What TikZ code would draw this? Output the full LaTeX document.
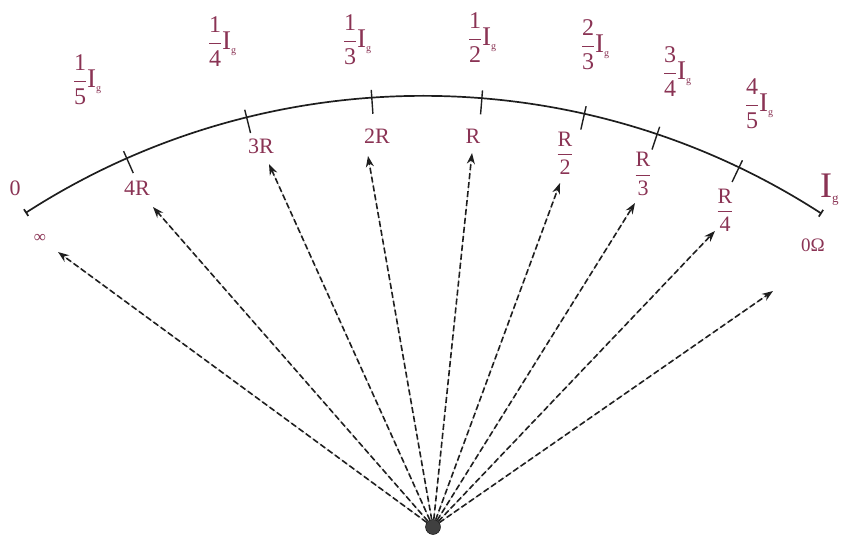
\documentclass[tikz,border=0pt]{standalone}
\usepackage{amsmath}
\usepackage{fontspec}
\setmainfont{Liberation Serif}
\usepackage{xcolor}
\usepackage{tikz}
\usetikzlibrary{arrows.meta, calc}
\definecolor{dialtext}{HTML}{8A3354}
\definecolor{dialline}{HTML}{1E1E1E}
\tikzset{
    dial/.style={line width=1.7pt, draw=dialline},
    tickmark/.style={line width=1.4pt, draw=dialline},
    ohmlbl/.style={text=dialtext, font=\fontsize{22}{24}\selectfont, inner sep=1pt},
    curlbl/.style={text=dialtext, font=\fontsize{24}{26}\selectfont, inner sep=1pt},
    ptr/.style={-{Stealth[length=11pt, width=8pt]}, dash pattern=on 6pt off 3pt,
                line width=1.6pt, draw=dialline, fill=dialline},
}
\newcommand{\dialfrac}[2]{$\dfrac{\text{#1}}{\text{#2}}$}
\newcommand{\Ig}{{\fontsize{27}{28}\selectfont I}\raisebox{-0.35ex}{\fontsize{10}{11}\selectfont g}}

\begin{document}
\begin{tikzpicture}[x=1pt, y=1pt]
  \useasboundingbox (0,0) rectangle (842,540);
  \coordinate (ctr) at (423,-290);

  % scale arc with its end bars
  \draw[dial, {Bar[width=8pt]}-{Bar[width=8pt]}] ($(ctr)+(122.8:734)$)
        arc[start angle=122.8, end angle=57.1, radius=734pt];
  \draw[tickmark] ($(ctr)+(113.8:742)$) -- ($(ctr)+(113.8:718)$);
  \draw[tickmark] ($(ctr)+(103.9:742)$) -- ($(ctr)+(103.9:718)$);
  \draw[tickmark] ($(ctr)+(94.0:742)$) -- ($(ctr)+(94.0:718)$);
  \draw[tickmark] ($(ctr)+(85.4:742)$) -- ($(ctr)+(85.4:718)$);
  \draw[tickmark] ($(ctr)+(77.3:742)$) -- ($(ctr)+(77.3:718)$);
  \draw[tickmark] ($(ctr)+(71.4:742)$) -- ($(ctr)+(71.4:718)$);
  \draw[tickmark] ($(ctr)+(64.5:742)$) -- ($(ctr)+(64.5:718)$);

  % current fractions above the arc
  \node[curlbl] (curfifth)   at (87,460)  {\dialfrac{1}{5}\Ig};
  \node[curlbl] (curquarter) at (222,498) {\dialfrac{1}{4}\Ig};
  \node[curlbl] (curthird)   at (357,500) {\dialfrac{1}{3}\Ig};
  \node[curlbl] (curhalf)    at (482,502) {\dialfrac{1}{2}\Ig};
  \node[curlbl] (curtwothird) at (595,495) {\dialfrac{2}{3}\Ig};
  \node[curlbl] (curthreeq)  at (677,468) {\dialfrac{3}{4}\Ig};
  \node[curlbl] (curfourfifth) at (759,436) {\dialfrac{4}{5}\Ig};
  \node[curlbl, font=\fontsize{36}{38}\selectfont, anchor=west] (curfull) at (819,350)
        {I\raisebox{-0.3ex}{\fontsize{13}{14}\selectfont g}};

  % resistance marks below the arc
  \node[ohmlbl] (lblzero) at (15,352) {0};
  \node[ohmlbl, font=\fontsize{17}{18}\selectfont] (lblinf) at (40,302) {∞};
  \node[ohmlbl] (lblfourR)  at (137,352) {4R};
  \node[ohmlbl] (lblthreeR) at (261,394) {3R};
  \node[ohmlbl] (lbltwoR)   at (377,404) {2R};
  \node[ohmlbl] (lblR)      at (473,404) {R};
  \node[ohmlbl] (lblhalfR)  at (565,387) {\dialfrac{R}{2}};
  \node[ohmlbl] (lblthirdR) at (643,366) {\dialfrac{R}{3}};
  \node[ohmlbl] (lblquarterR) at (725,330) {\dialfrac{R}{4}};
  \node[ohmlbl, font=\fontsize{19}{20}\selectfont] (lblshort) at (813,295) {0Ω};

  % pointer positions
  \node[circle, fill=black!75, draw=black, minimum size=15pt, inner sep=0pt] (pivot) at (433,13) {};
  \coordinate (tipinf)     at (58,288);
  \coordinate (tipfourR)   at (153,333);
  \coordinate (tipthreeR)  at (269,376);
  \coordinate (tiptwoR)    at (368,384);
  \coordinate (tipR)       at (472,387);
  \coordinate (tiphalfR)   at (560,357);
  \coordinate (tipthirdR)  at (635,337);
  \coordinate (tipquarterR) at (715,309);
  \coordinate (tipshort)   at (773,249);

  \draw[ptr] (pivot) -- (tipinf);
  \draw[ptr] (pivot) -- (tipfourR);
  \draw[ptr] (pivot) -- (tipthreeR);
  \draw[ptr] (pivot) -- (tiptwoR);
  \draw[ptr] (pivot) -- (tipR);
  \draw[ptr] (pivot) -- (tiphalfR);
  \draw[ptr] (pivot) -- (tipthirdR);
  \draw[ptr] (pivot) -- (tipquarterR);
  \draw[ptr] (pivot) -- (tipshort);

\end{tikzpicture}
\end{document}
